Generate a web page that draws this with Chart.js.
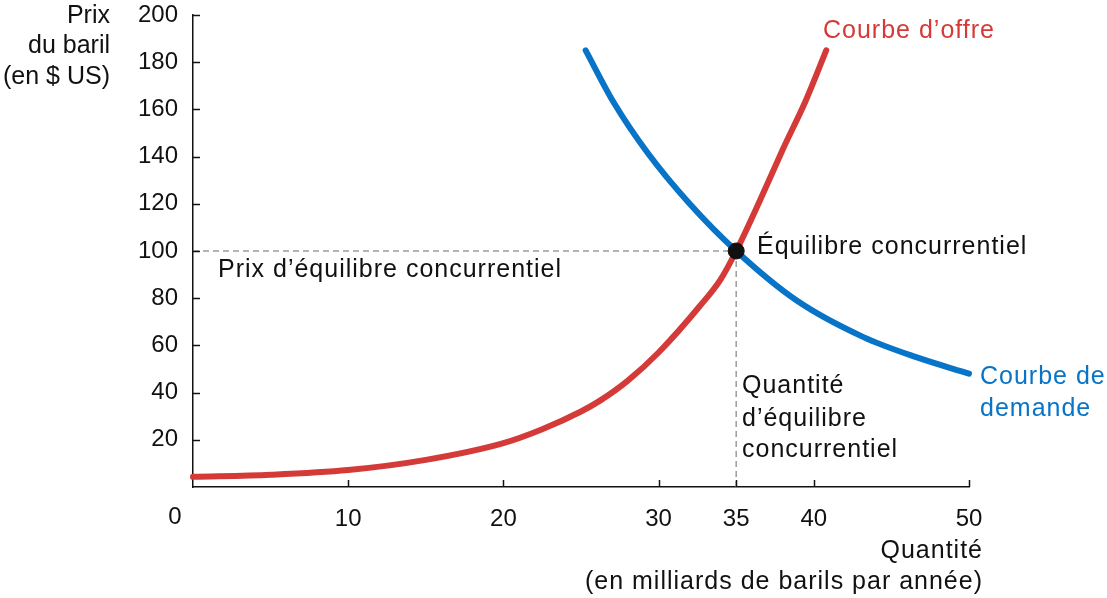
<!DOCTYPE html>
<html>
<head>
<meta charset="utf-8">
<script src="https://cdn.jsdelivr.net/npm/chart.js@4.4.1/dist/chart.umd.min.js"></script>
<style>
  html, body { margin: 0; padding: 0; background: #fff; }
  #wrap { width: 1107px; height: 598px; position: relative; }
</style>
</head>
<body>
<div id="wrap"><canvas id="c"></canvas></div>
<script>
// -------- Data --------
const supplyQ = [0, 5, 10, 15, 20, 22.5, 25, 26.2, 28, 30, 32.7, 34, 35, 36.5, 38, 39.5, 40.8];
const supplyP = [4.3, 5.2, 7.2, 11.5, 18.6, 24.5, 32, 36.5, 45, 57, 77, 88, 100, 121, 143, 164, 185];
const demandQ = [25.3, 27.1, 29.3, 32, 35, 38.9, 43.2, 46.6, 50];
const demandP = [185, 163, 141.5, 120, 100, 79, 63.5, 55, 48];
const eqQ = 35;
const eqP = 100;
const xTicks = [0, 10, 20, 30, 35, 40, 50];
const yTicks = [20, 40, 60, 80, 100, 120, 140, 160, 180, 200];

// -------- Style --------
const RED = '#d43a37';
const BLUE = '#0874c7';
const INK = '#111';
const DASH = '#9c9c9c';
const FONT = '"Liberation Sans", Arial, Helvetica, sans-serif';

function pts(xs, ys) { return xs.map((x, i) => ({ x, y: ys[i] })); }

// text + inner tick marks
const decor = {
  id: 'decor',
  afterDraw(chart) {
    const { ctx, scales: { x, y } } = chart;
    ctx.save();
    ctx.strokeStyle = INK;
    ctx.lineWidth = 1.5;
    const ax = x.top, ay = y.right;
    xTicks.filter(v => v !== 0).forEach(v => {
      const px = Math.round(x.getPixelForValue(v)) + 0.5;
      ctx.beginPath(); ctx.moveTo(px, ax); ctx.lineTo(px, ax - 7); ctx.stroke();
    });
    yTicks.forEach(v => {
      const py = Math.round(y.getPixelForValue(v)) + 0.5;
      ctx.beginPath(); ctx.moveTo(ay, py); ctx.lineTo(ay + 7, py); ctx.stroke();
    });

    function txt(s, px, py, align, color) {
      ctx.fillStyle = color || INK;
      ctx.textAlign = align;
      ctx.fillText(s, px, py);
    }
    ctx.textBaseline = 'middle';
    ctx.font = '24px ' + FONT;
    txt('0', 175, 517, 'center');
    ctx.font = '25px ' + FONT;
    txt('Prix', 110, 16, 'right');
    txt('du baril', 110, 46, 'right');
    txt('(en $ US)', 110, 77, 'right');
    ctx.letterSpacing = '1px';
    txt('Courbe d’offre', 823, 31, 'left', RED);
    txt('Équilibre concurrentiel', 757, 247, 'left');
    txt('Prix d’équilibre concurrentiel', 218, 270, 'left');
    txt('Quantité', 742, 386, 'left');
    txt('d’équilibre', 742, 419, 'left');
    txt('concurrentiel', 742, 450, 'left');
    txt('Courbe de', 980, 377, 'left', BLUE);
    txt('demande', 980, 409, 'left', BLUE);
    txt('Quantité', 983, 551, 'right');
    txt('(en milliards de barils par année)', 983, 582, 'right');
    ctx.restore();
  }
};

new Chart(document.getElementById('c'), {
  type: 'scatter',
  data: {
    datasets: [
      { data: [{ x: eqQ, y: eqP }], pointRadius: 8, pointBackgroundColor: '#111', pointBorderColor: '#111', showLine: false, clip: false },
      { data: pts(supplyQ, supplyP), showLine: true, borderColor: RED, borderWidth: 6, pointRadius: 0, cubicInterpolationMode: 'monotone', borderCapStyle: 'round', clip: false },
      { data: pts(demandQ, demandP), showLine: true, borderColor: BLUE, borderWidth: 6, pointRadius: 0, cubicInterpolationMode: 'monotone', borderCapStyle: 'round', clip: false },
      { data: [{ x: 0, y: eqP }, { x: eqQ, y: eqP }], showLine: true, borderColor: DASH, borderWidth: 1.5, borderDash: [6, 4], pointRadius: 0, clip: false },
      { data: [{ x: eqQ, y: eqP }, { x: eqQ, y: 0 }], showLine: true, borderColor: DASH, borderWidth: 1.5, borderDash: [6, 4], pointRadius: 0, clip: false }
    ]
  },
  options: {
    responsive: true,
    maintainAspectRatio: false,
    animation: false,
    events: [],
    layout: { padding: { left: 0, top: 15, right: 138, bottom: 0 } },
    plugins: { legend: { display: false }, tooltip: { enabled: false } },
    scales: {
      x: {
        type: 'linear', min: 0, max: 50,
        afterBuildTicks: s => { s.ticks = xTicks.map(v => ({ value: v })); },
        afterFit: s => { s.height = 111; s.paddingLeft = 0; s.paddingRight = 0; },
        grid: { display: false, drawTicks: false },
        border: { display: true, color: INK, width: 1.5 },
        ticks: { padding: 18, color: INK, font: { family: FONT, size: 24 }, maxRotation: 0, autoSkip: false,
          callback: v => (v === 0 ? '' : String(v)) }
      },
      y: {
        type: 'linear', min: 0, max: 200,
        afterBuildTicks: s => { s.ticks = [0].concat(yTicks).map(v => ({ value: v })); },
        afterFit: s => { s.width = 193; s.paddingTop = 0; s.paddingBottom = 0; },
        grid: { display: false, drawTicks: false },
        border: { display: true, color: INK, width: 1.5 },
        ticks: { padding: 15, color: INK, font: { family: FONT, size: 24 }, autoSkip: false,
          callback: v => (v === 0 ? '' : String(v)) }
      }
    }
  },
  plugins: [decor]
});
</script>
</body>
</html>
